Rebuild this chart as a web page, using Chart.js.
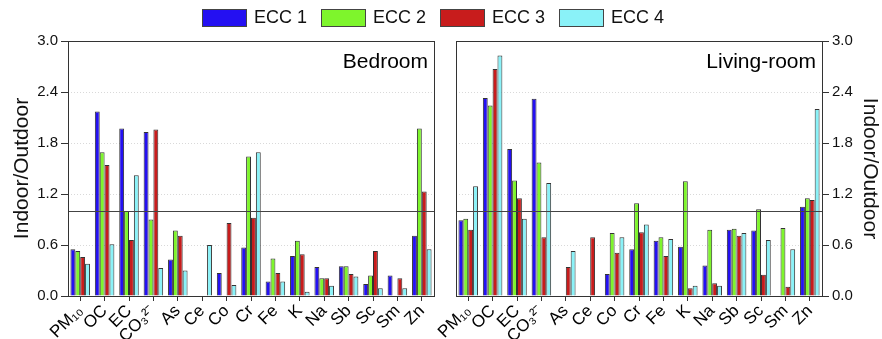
<!DOCTYPE html>
<html>
<head>
<meta charset="utf-8">
<script src="https://cdn.jsdelivr.net/npm/chart.js@4/dist/chart.umd.min.js"></script>
<style>
  body { margin: 0; background: #fff; font-family: "Liberation Sans", Arial, sans-serif; }
  #wrap { position: relative; width: 882px; height: 339px; overflow: hidden; }
  canvas { position: absolute; top: 0; }
  #bedroomChart { left: 0; }
  #livingChart { left: 410px; }
  #legend { position: absolute; top: 7px; left: 202px; display: flex; align-items: center; font-size: 18px; color: #111; }
  .item { display: flex; align-items: center; margin-right: 14px; }
  .box { width: 43px; height: 16px; border: 1px solid #444; margin-right: 7px; }
</style>
</head>
<body>
<div id="wrap">
  <canvas id="bedroomChart" width="445" height="339"></canvas>
  <canvas id="livingChart" width="472" height="339"></canvas>
  <div id="legend"></div>
</div>
<script>
const categories = ['PM\u2081\u2080', 'OC', 'EC', 'CO\u2083\u00b2\u207b', 'As', 'Ce', 'Co', 'Cr', 'Fe', 'K', 'Na', 'Sb', 'Sc', 'Sm', 'Zn'];
const seriesNames = ['ECC 1', 'ECC 2', 'ECC 3', 'ECC 4'];
const seriesColors = ['#2410f2', '#7ef52c', '#c81c1c', '#8af2f8'];
const yTicks = [0, 0.6, 1.2, 1.8, 2.4, 3.0];

// Bedroom
const bedEcc1 = [0.55, 2.17, 1.97, 1.93, 0.43, null, 0.27, 0.57, 0.17, 0.47, 0.34, 0.35, 0.14, 0.24, 0.71];
const bedEcc2 = [0.53, 1.69, 1.00, 0.90, 0.77, null, null, 1.64, 0.44, 0.65, 0.21, 0.35, 0.24, null, 1.97];
const bedEcc3 = [0.46, 1.54, 0.66, 1.96, 0.71, null, 0.86, 0.92, 0.27, 0.49, 0.21, 0.26, 0.53, 0.21, 1.23];
const bedEcc4 = [0.38, 0.61, 1.42, 0.33, 0.30, 0.60, 0.13, 1.69, 0.17, 0.05, 0.12, 0.23, 0.09, 0.09, 0.55];

// Living-room
const livEcc1 = [0.89, 2.33, 1.73, 2.32, null, null, 0.26, 0.55, 0.65, 0.58, 0.36, 0.78, 0.77, null, 1.05];
const livEcc2 = [0.91, 2.24, 1.36, 1.57, null, null, 0.74, 1.09, 0.69, 1.35, 0.78, 0.79, 1.02, 0.80, 1.15];
const livEcc3 = [0.78, 2.67, 1.15, 0.69, 0.34, 0.69, 0.51, 0.75, 0.47, 0.09, 0.15, 0.71, 0.25, 0.11, 1.13];
const livEcc4 = [1.29, 2.83, 0.91, 1.33, 0.53, null, 0.69, 0.84, 0.67, 0.12, 0.12, 0.74, 0.66, 0.55, 2.20];

const refLine = 1.0;

// legend (html)
const legendEl = document.getElementById('legend');
seriesNames.forEach((name, i) => {
  const item = document.createElement('div');
  item.className = 'item';
  item.innerHTML = `<div class="box" style="background:${seriesColors[i]}"></div><span>${name}</span>`;
  legendEl.appendChild(item);
});

// frame, 1.0 line and panel label
const framePlugin = {
  id: 'frame',
  afterDatasetsDraw: (chart) => {
    const ctx = chart.ctx;
    const a = chart.chartArea;
    const y1 = chart.scales.y.getPixelForValue(refLine);
    ctx.save();
    ctx.strokeStyle = '#444';
    ctx.lineWidth = 1;
    ctx.beginPath();
    ctx.moveTo(a.left, Math.round(y1) + 0.5);
    ctx.lineTo(a.right, Math.round(y1) + 0.5);
    ctx.stroke();
    ctx.strokeStyle = '#333';
    ctx.strokeRect(Math.round(a.left) + 0.5, Math.round(a.top) + 0.5, Math.round(a.right - a.left), Math.round(a.bottom - a.top));
    ctx.fillStyle = '#000';
    ctx.font = '21px "Liberation Sans", Arial, sans-serif';
    ctx.textAlign = 'right';
    ctx.textBaseline = 'alphabetic';
    ctx.fillText(chart.options.panelLabel, a.right - 6, a.top + 27);
    ctx.restore();
  }
};

function makeDatasets(values) {
  return values.map((data, i) => ({
    label: seriesNames[i],
    data: data,
    backgroundColor: seriesColors[i],
    borderColor: '#333',
    borderWidth: 1,
    categoryPercentage: 0.8,
    barPercentage: 1.0
  }));
}

function createChart(id, values, label, side, pad) {
  const ctx = document.getElementById(id).getContext('2d');
  return new Chart(ctx, {
    type: 'bar',
    data: { labels: categories, datasets: makeDatasets(values) },
    options: {
      responsive: false,
      animation: false,
      panelLabel: label,
      layout: { padding: pad },
      plugins: { legend: { display: false }, tooltip: { enabled: false } },
      scales: {
        x: {
          afterFit: (s) => { s.height = 43; },
          grid: { display: true, drawOnChartArea: false, offset: false, tickLength: 5, tickColor: '#333' },
          border: { display: false },
          ticks: {
            autoSkip: false, minRotation: 45, maxRotation: 45, padding: 0,
            color: '#000', font: { size: 17, family: '"Liberation Sans", Arial, sans-serif' }
          }
        },
        y: {
          position: side,
          min: 0, max: 3,
          afterFit: (s) => { s.width = side === 'left' ? 68 : 60; },
          afterBuildTicks: (s) => { s.ticks = yTicks.map(v => ({ value: v })); },
          grid: { color: '#d9d9d9', tickLength: 7, tickColor: '#333', tickBorderDash: [] },
          border: { display: false, dash: [1, 2] },
          title: {
            display: true, text: 'Indoor/Outdoor', color: '#111',
            padding: side === 'left' ? { top: 10, bottom: 0 } : { top: 0, bottom: 0 },
            font: { size: 21, family: '"Liberation Sans", Arial, sans-serif' }
          },
          ticks: {
            padding: 3, color: '#111',
            font: { size: 15, family: '"Liberation Sans", Arial, sans-serif' },
            callback: (v) => Number(v).toFixed(1)
          }
        }
      }
    },
    plugins: [framePlugin]
  });
}

createChart('bedroomChart', [bedEcc1, bedEcc2, bedEcc3, bedEcc4], 'Bedroom', 'left', { top: 41, right: 11, left: 0, bottom: 0 });
createChart('livingChart', [livEcc1, livEcc2, livEcc3, livEcc4], 'Living-room', 'right', { top: 41, right: 0, left: 46, bottom: 0 });
</script>
</body>
</html>
